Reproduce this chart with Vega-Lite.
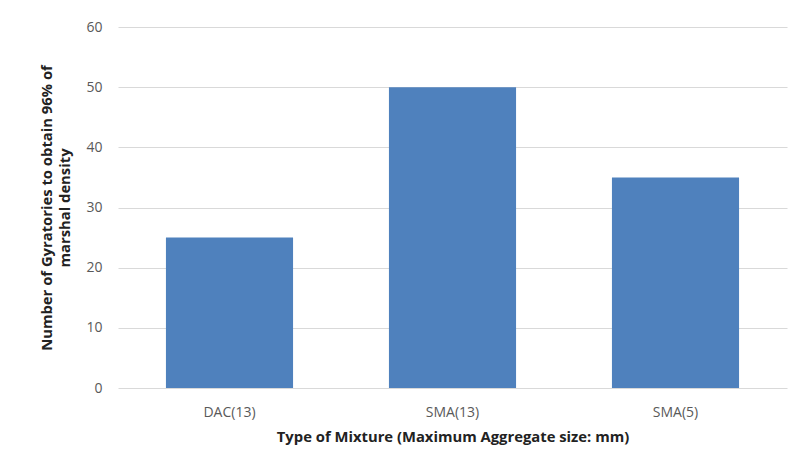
{
  "$schema": "https://vega.github.io/schema/vega-lite/v6.json",
  "autosize": "none",
  "width": 669,
  "height": 361,
  "padding": {"left": 118, "top": 27, "right": 7, "bottom": 80},
  "background": "white",
  "config": {
    "view": {"stroke": null},
    "font": "Open Sans",
    "axis": {
      "labelFont": "Open Sans",
      "titleFont": "Open Sans",
      "labelColor": "#595959",
      "titleColor": "#222222",
      "labelFontSize": 14,
      "titleFontSize": 14.8,
      "titleFontWeight": "bold",
      "gridColor": "#D9D9D9",
      "domainColor": "#D9D9D9"
    }
  },
  "data": {
    "values": [
      {"mixture": "DAC(13)", "gyrations": 25},
      {"mixture": "SMA(13)", "gyrations": 50},
      {"mixture": "SMA(5)", "gyrations": 35}
    ]
  },
  "mark": {"type": "bar", "color": "#4F81BD"},
  "encoding": {
    "x": {
      "field": "mixture",
      "type": "nominal",
      "sort": null,
      "scale": {"paddingInner": 0.43, "paddingOuter": 0.215},
      "axis": {
        "title": "Type of Mixture (Maximum Aggregate size: mm)",
        "labelAngle": 0,
        "ticks": false,
        "domain": false,
        "labelPadding": 17,
        "titlePadding": 10
      }
    },
    "y": {
      "field": "gyrations",
      "type": "quantitative",
      "scale": {"domain": [0, 60]},
      "axis": {
        "title": ["Number of Gyratories to obtain 96% of", "marshal density"],
        "titleLineHeight": 18,
        "values": [0, 10, 20, 30, 40, 50, 60],
        "ticks": false,
        "domain": false,
        "labelPadding": 16,
        "titlePadding": 13
      }
    }
  }
}
